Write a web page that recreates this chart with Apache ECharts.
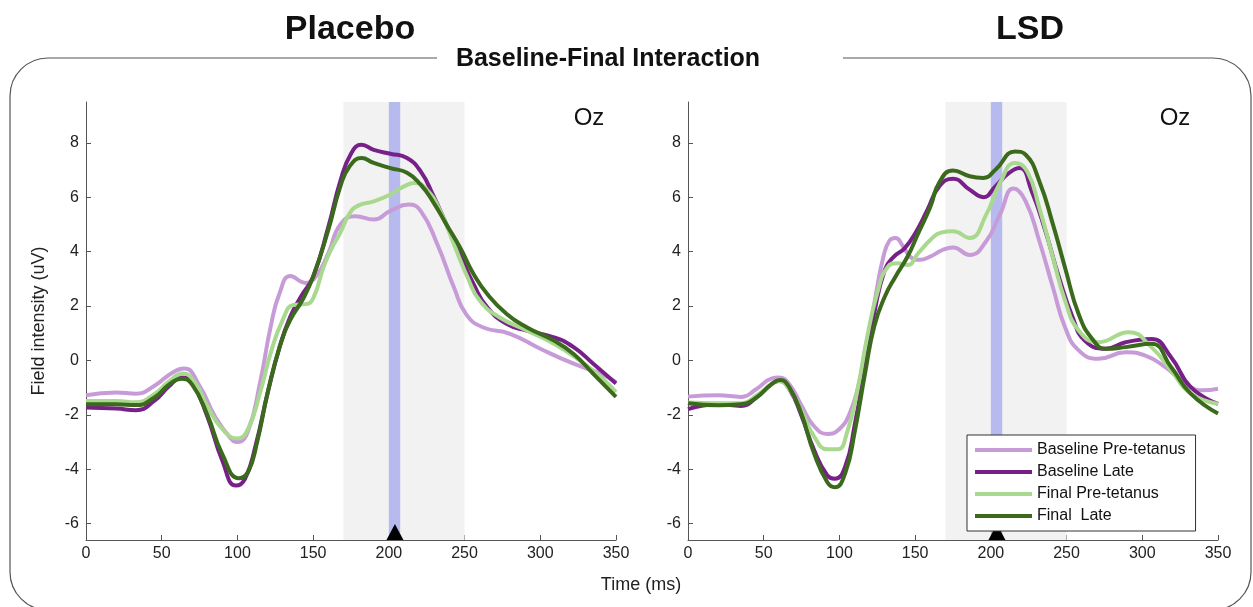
<!DOCTYPE html>
<html>
<head>
<meta charset="utf-8">
<script src="https://cdn.jsdelivr.net/npm/echarts@6/dist/echarts.min.js"></script>
<style>
  html, body { margin: 0; padding: 0; background: #fff; }
  #chart { width: 1253px; height: 607px; }
</style>
</head>
<body>
<div id="chart"></div>
<script>
// series: [time (ms), field intensity (uV)]
var seriesNames = ['Baseline Pre-tetanus', 'Baseline Late', 'Final Pre-tetanus', 'Final  Late'];
var seriesColors = ['#c79bd8', '#78208a', '#a9d88f', '#3b6a1c'];

var placeboBasePre = [[0,-1.28],[20,-1.18],[33,-1.22],[45,-0.94],[57,-0.45],[65,-0.3],[75,-0.94],[85,-2.04],[95,-2.83],[100,-3.0],[107,-2.6],[115,-0.8],[122,1.25],[128,2.5],[135,3.1],[145,2.85],[152,3.1],[160,3.94],[168,5.0],[178,5.3],[190,5.18],[201,5.5],[213,5.73],[221,5.5],[232,4.27],[243,2.68],[251,1.7],[262,1.22],[280,0.98],[300,0.43],[322,-0.12],[340,-0.49],[350,-0.8]];
var placeboBaseLate = [[0,-1.73],[20,-1.77],[33,-1.83],[45,-1.49],[55,-0.94],[63,-0.63],[70,-0.82],[80,-2.04],[90,-3.68],[99,-4.6],[105,-4.35],[112,-3.13],[120,-1.18],[128,0.52],[135,1.62],[142,2.35],[150,3.08],[160,4.9],[168,6.6],[175,7.6],[182,7.93],[190,7.74],[201,7.6],[212,7.44],[221,6.95],[229,6.1],[238,5.0],[247,3.9],[256,2.8],[265,1.95],[278,1.34],[291,1.1],[309,0.85],[322,0.49],[335,-0.12],[350,-0.85]];
var placeboFinalPre = [[0,-1.49],[20,-1.49],[33,-1.54],[45,-1.24],[55,-0.76],[64,-0.48],[72,-0.82],[80,-1.67],[90,-2.52],[100,-2.87],[107,-2.52],[115,-1.18],[122,0.28],[130,1.5],[137,2.04],[145,2.07],[150,2.28],[157,3.45],[163,4.2],[168,4.7],[174,5.4],[180,5.7],[190,5.85],[201,6.1],[210,6.4],[217,6.52],[225,6.28],[234,5.49],[243,4.27],[252,3.05],[260,2.2],[273,1.59],[291,1.1],[309,0.61],[326,0],[340,-0.61],[350,-1.16]];
var placeboFinalLate = [[0,-1.61],[20,-1.61],[33,-1.64],[45,-1.37],[55,-0.88],[63,-0.67],[70,-0.88],[80,-1.98],[90,-3.44],[101,-4.33],[107,-4.1],[113,-3.0],[120,-1.18],[128,0.52],[135,1.5],[143,2.23],[150,3.08],[160,4.8],[168,6.4],[174,7.13],[182,7.44],[190,7.26],[201,7.07],[212,6.9],[221,6.46],[229,5.85],[238,5.0],[247,4.15],[256,3.17],[265,2.44],[278,1.7],[291,1.22],[309,0.73],[322,0.24],[335,-0.49],[350,-1.34]];

var lsdBasePre = [[0,-1.33],[20,-1.28],[35,-1.34],[45,-1.06],[55,-0.67],[60,-0.63],[67,-0.88],[75,-1.67],[83,-2.4],[92,-2.7],[100,-2.52],[107,-1.91],[113,-0.82],[119,0.8],[124,2.4],[129,3.8],[133,4.4],[137,4.5],[142,4.2],[147,3.8],[153,3.7],[160,3.82],[168,4.06],[175,4.15],[186,3.88],[197,4.39],[206,5.37],[215,6.32],[223,5.85],[232,4.39],[241,2.68],[249,1.22],[258,0.37],[271,0.06],[289,0.3],[302,0.18],[315,-0.24],[330,-0.9],[340,-1.1],[350,-1.04]];
var lsdBaseLate = [[0,-1.79],[20,-1.61],[35,-1.67],[45,-1.37],[55,-0.88],[60,-0.76],[67,-1.06],[75,-2.04],[83,-3.26],[92,-4.23],[97,-4.35],[104,-3.87],[110,-2.4],[117,-0.2],[123,1.74],[130,3.33],[136,3.82],[143,4.12],[150,4.67],[158,5.52],[166,6.4],[175,6.68],[186,6.28],[195,6.0],[203,6.4],[212,6.89],[219,7.07],[227,6.22],[236,4.76],[245,3.05],[254,1.59],[262,0.73],[276,0.43],[289,0.67],[306,0.79],[319,0.12],[332,-0.98],[350,-1.6]];
var lsdFinalPre = [[0,-1.55],[20,-1.57],[35,-1.57],[45,-1.3],[55,-0.88],[60,-0.76],[67,-1.06],[75,-1.85],[83,-2.77],[92,-3.26],[99,-3.26],[105,-2.65],[112,-1.06],[118,0.77],[125,2.48],[132,3.45],[138,3.57],[145,3.51],[152,3.94],[160,4.43],[167,4.7],[175,4.75],[186,4.5],[197,5.37],[206,6.52],[216,7.26],[224,6.95],[232,5.61],[241,3.78],[249,2.2],[258,1.1],[271,0.67],[291,1.04],[306,0.49],[319,-0.37],[332,-1.22],[350,-1.59]];
var lsdFinalLate = [[0,-1.57],[20,-1.65],[35,-1.61],[45,-1.37],[55,-0.88],[61,-0.72],[67,-1.0],[75,-1.98],[83,-3.38],[92,-4.48],[97,-4.66],[104,-4.11],[110,-2.65],[117,-0.45],[123,1.26],[130,2.35],[137,3.08],[145,3.82],[152,4.67],[160,5.64],[166,6.55],[175,6.98],[186,6.77],[195,6.71],[203,7.01],[216,7.68],[223,7.56],[232,6.59],[241,5.0],[249,3.41],[258,1.7],[267,0.79],[276,0.43],[289,0.49],[306,0.61],[319,-0.24],[332,-1.22],[350,-1.95]];

var yTicks = [-6, -4, -2, 0, 2, 4, 6, 8];
var grayWindow = [170, 250];
var blueWindow = [200, 207.5];
var markerTime = [204];

var font = 'Liberation Sans, Arial, Helvetica, sans-serif';
var yMin = -6.6, yMax = 9.5;

var chart = echarts.init(document.getElementById('chart'));

function xAxisFor(idx) {
  return {
    type: 'value', gridIndex: idx, min: 0, max: 350, interval: 50,
    axisLine: { onZero: false, lineStyle: { color: '#555', width: 1 } },
    axisTick: { inside: true, length: 5, lineStyle: { color: '#555' } },
    axisLabel: { color: '#222', fontSize: 16, fontFamily: font, margin: 6 },
    splitLine: { show: false }
  };
}
function yAxisFor(idx) {
  return {
    type: 'value', gridIndex: idx, min: yMin, max: yMax,
    name: idx === 0 ? 'Field intensity (uV)' : '',
    nameLocation: 'middle', nameGap: 38, nameRotate: 90,
    nameTextStyle: { color: '#222', fontSize: 18, fontFamily: font },
    axisLine: { show: true, onZero: false, lineStyle: { color: '#555', width: 1 } },
    axisTick: { show: true, inside: true, length: 5, customValues: yTicks, lineStyle: { color: '#555' } },
    axisLabel: { color: '#222', fontSize: 16, fontFamily: font, margin: 7, customValues: yTicks },
    splitLine: { show: false }
  };
}

function panelSeries(idx, datasets) {
  var out = [];
  // gray window behind lines
  out.push({
    type: 'line', xAxisIndex: idx, yAxisIndex: idx, data: [], z: 0, silent: true,
    markArea: { silent: true, itemStyle: { color: '#f2f2f2' },
      data: [[{ xAxis: grayWindow[0] }, { xAxis: grayWindow[1] }]] }
  });
  datasets.forEach(function (d, i) {
    out.push({
      name: seriesNames[i], type: 'line', xAxisIndex: idx, yAxisIndex: idx,
      data: d, smooth: 0.5, symbol: 'none', z: 2 + i,
      lineStyle: { color: seriesColors[i], width: 4 },
      itemStyle: { color: seriesColors[i] }
    });
  });
  // blue window over lines
  out.push({
    type: 'line', xAxisIndex: idx, yAxisIndex: idx, data: [], z: 8, silent: true,
    markArea: { silent: true, itemStyle: { color: 'rgba(100,110,235,0.42)' },
      data: [[{ xAxis: blueWindow[0] }, { xAxis: blueWindow[1] }]] }
  });
  out.push({
    type: 'scatter', xAxisIndex: idx, yAxisIndex: idx, z: 9, clip: false, silent: true,
    symbol: 'triangle', symbolSize: [17, 16], symbolOffset: [0, -8],
    itemStyle: { color: '#000', opacity: 1 },
    data: markerTime.map(function (t) { return [t, yMin]; })
  });
  return out;
}

var option = {
  backgroundColor: '#fff',
  animation: false,
  grid: [
    { left: 86, top: 102, width: 530, height: 438 },
    { left: 688, top: 102, width: 530, height: 438 }
  ],
  xAxis: [xAxisFor(0), xAxisFor(1)],
  yAxis: [yAxisFor(0), yAxisFor(1)],
  legend: {
    data: seriesNames, orient: 'vertical', left: 967, top: 435,
    padding: [7, 10, 7, 8], itemWidth: 57, itemHeight: 4, itemGap: 6, icon: 'rect',
    backgroundColor: '#fff', borderColor: '#333', borderWidth: 1, borderRadius: 0,
    textStyle: { color: '#111', fontSize: 16, fontFamily: font, lineHeight: 14 },
    z: 20
  },
  graphic: [
    { type: 'rect', z: -10, shape: { x: 10, y: 58, width: 1241, height: 552, r: 38 },
      style: { fill: null, stroke: '#555', lineWidth: 1.2 } },
    { type: 'rect', z: -9, shape: { x: 437, y: 50, width: 406, height: 16 },
      style: { fill: '#fff' } },
    { type: 'text', x: 350, y: 30, z: 5, style: { text: 'Placebo', fill: '#111', font: 'bold 34px ' + font, textAlign: 'center', textVerticalAlign: 'middle' } },
    { type: 'text', x: 1030, y: 30, z: 5, style: { text: 'LSD', fill: '#111', font: 'bold 34px ' + font, textAlign: 'center', textVerticalAlign: 'middle' } },
    { type: 'text', x: 608, y: 59, z: 5, style: { text: 'Baseline-Final Interaction', fill: '#111', font: 'bold 25px ' + font, textAlign: 'center', textVerticalAlign: 'middle' } },
    { type: 'text', x: 589, y: 118, z: 5, style: { text: 'Oz', fill: '#111', font: '24px ' + font, textAlign: 'center', textVerticalAlign: 'middle' } },
    { type: 'text', x: 1175, y: 118, z: 5, style: { text: 'Oz', fill: '#111', font: '24px ' + font, textAlign: 'center', textVerticalAlign: 'middle' } },
    { type: 'text', x: 641, y: 585, z: 5, style: { text: 'Time (ms)', fill: '#222', font: '18px ' + font, textAlign: 'center', textVerticalAlign: 'middle' } }
  ],
  series: panelSeries(0, [placeboBasePre, placeboBaseLate, placeboFinalPre, placeboFinalLate])
    .concat(panelSeries(1, [lsdBasePre, lsdBaseLate, lsdFinalPre, lsdFinalLate]))
};

chart.setOption(option);
</script>
</body>
</html>
